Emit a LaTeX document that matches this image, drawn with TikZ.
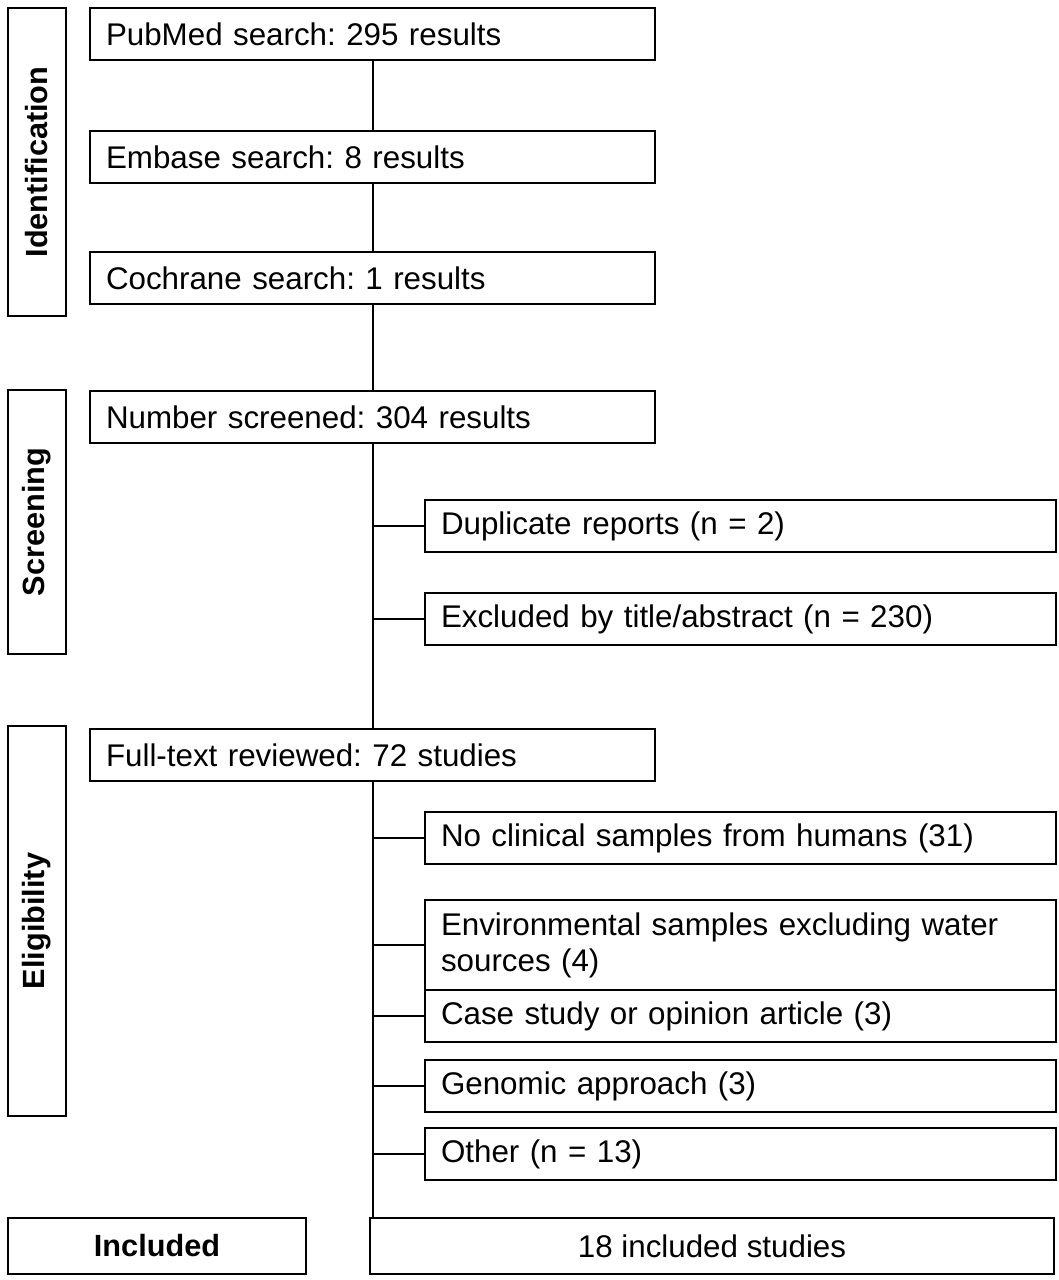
\documentclass[tikz,border=0pt]{standalone}
\usepackage{fontspec}
\setmainfont{Liberation Sans}
\usetikzlibrary{positioning}
\frenchspacing
\tikzset{
  box/.style={draw, line width=1.5pt, anchor=west, minimum height=39pt, text width=#1, inner xsep=12pt, align=left},
  side/.style={draw, line width=1.5pt, rotate=90, font=\fontsize{23}{27}\selectfont\bfseries, minimum height=43pt},
  link/.style={line width=1.5pt}
}
\begin{document}
\begin{tikzpicture}[x=0.75pt,y=-0.75pt,font=\fontsize{23.5}{27}\selectfont]
		\useasboundingbox (0,0) rectangle (1058,1280);
		\node(ident)  [side, minimum width=231pt] at (37,162)  {Identification};
		\node(screen) [side, minimum width=198pt] at (37,522)  {Screening};
		\node(elig)   [side, minimum width=292pt] at (37,921)  {Eligibility};
		\node(inc)    [draw, line width=1.5pt, font=\fontsize{23}{27}\selectfont\bfseries, minimum width=223pt, minimum height=42pt] at (157,1246) {Included};

		\node(pubmed)  [box=400pt] at (89,34)  {PubMed search: 295 results};
		\node(embase)  [box=400pt] at (89,157) {Embase search: 8 results};
		\node(cochrane)[box=400pt] at (89,278) {Cochrane search: 1 results};
		\node(screened)[box=400pt] at (89,417) {Number screened: 304 results};
		\node(full)    [box=400pt] at (89,755) {Full-text reviewed: 72 studies};

		\node(dup)     [box=449pt] at (424,526)  {Duplicate reports (n = 2)};
		\node(title)   [box=449pt] at (424,619)  {Excluded by title/abstract (n = 230)};
		\node(clinical)[box=449pt] at (424,838)  {No clinical samples from humans (31)};
		\node(env)     [box=449pt, minimum height=67pt] at (424,945) {Environmental samples excluding water sources (4)};
		\node(case)    [box=449pt] at (424,1016) {Case study or opinion article (3)};
		\node(genomic) [box=449pt] at (424,1086) {Genomic approach (3)};
		\node(other)   [box=449pt] at (424,1154) {Other (n = 13)};
		\node(studies) [draw, line width=1.5pt, minimum width=513pt, minimum height=42pt] at (712,1246) {18 included studies};

		\draw[link] (pubmed) -- (embase) (embase) -- (cochrane) (cochrane) -- (screened) (screened) -- (full);
		\draw[link] (full.south) -- (full.south |- studies.north);
		\foreach \n in {dup, title, clinical, env, case, genomic, other}
		  \draw[link] (\n.west -| full.south) -- (\n.west);
\end{tikzpicture}
\end{document}
